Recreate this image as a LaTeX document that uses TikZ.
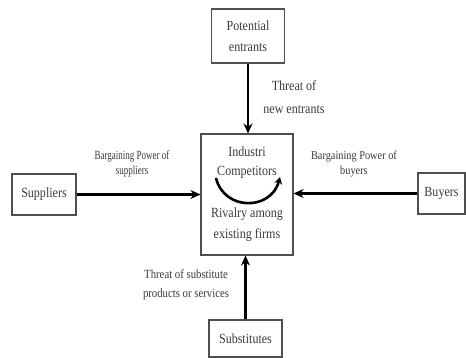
\documentclass[tikz,border=0pt]{standalone}
\usepackage{fontspec}
\setmainfont[FakeStretch=0.86]{Liberation Serif}
\newfontfamily\narrowser[FakeStretch=0.72]{Liberation Serif}
\usetikzlibrary{arrows.meta}
\definecolor{ink}{HTML}{3A3A3A}
\tikzset{
  box/.style={draw=ink!90, line width=1.1pt, inner sep=0pt, text=ink, font=\fontsize{14}{21}\selectfont, align=center},
  txt/.style={text=ink, font=\fontsize{14}{16}\selectfont, inner sep=0pt, anchor=base},
  lbl/.style={text=ink, font=\fontsize{12.5}{14}\selectfont, inner sep=0pt, anchor=base},
  force/.style={line width=2.8pt, black, -{Stealth[length=10pt,width=9pt]}},
}
\begin{document}
\begin{tikzpicture}[x=1pt,y=-1pt]
\useasboundingbox (0,0) rectangle (466,358);
\node[box, minimum width=73pt, minimum height=54pt] (pe) at (248,36) {Potential\\entrants};
\node[box, minimum width=92pt, minimum height=121pt] (comp) at (247,194.5) {};
\node[box, minimum width=64pt, minimum height=41pt] (sup) at (44,194.5) {Suppliers};
\node[box, minimum width=47pt, minimum height=41pt] (buy) at (441.5,193.5) {Buyers};
\node[box, minimum width=73pt, minimum height=37pt] (sub) at (245.5,338.5) {Substitutes};

\node[txt] (ic1) at (247,157) {Industri};
\node[txt] (ic2) at (247,176) {Competitors};
\node[txt] (rv1) at (247,218) {Rivalry among};
\node[txt] (rv2) at (247,239) {existing firms};

\coordinate (ca) at (216,178);
\coordinate (cb) at (280,177);
\draw[line width=2.6pt, black, -{Stealth[length=7pt,width=8pt]}] (ca) .. controls (224,211) and (271,211) .. (cb);

\draw[force] (pe.south) -- (pe.south |- comp.north);
\draw[force] (sub.north) -- (sub.north |- comp.south);
\draw[force] (sup.east) -- (sup.east -| comp.west);
\draw[force] (buy.west) -- (buy.west -| comp.east);

\node[txt] (tn1) at (294,91) {Threat of};
\node[txt] (tn2) at (294,114) {new entrants};
\node[lbl, font=\fontsize{12.5}{14}\narrowser] (bs1) at (132,160) {Bargaining Power of};
\node[lbl, font=\fontsize{12.5}{14}\narrowser] (bs2) at (132,175) {suppliers};
\node[lbl, font=\fontsize{12}{14}\selectfont] (bb1) at (354,160) {Bargaining Power of};
\node[lbl, font=\fontsize{12}{14}\selectfont] (bb2) at (354,175) {buyers};
\node[lbl] (ts1) at (186,279) {Threat of substitute};
\node[lbl] (ts2) at (186,298) {products or services};
\end{tikzpicture}
\end{document}
